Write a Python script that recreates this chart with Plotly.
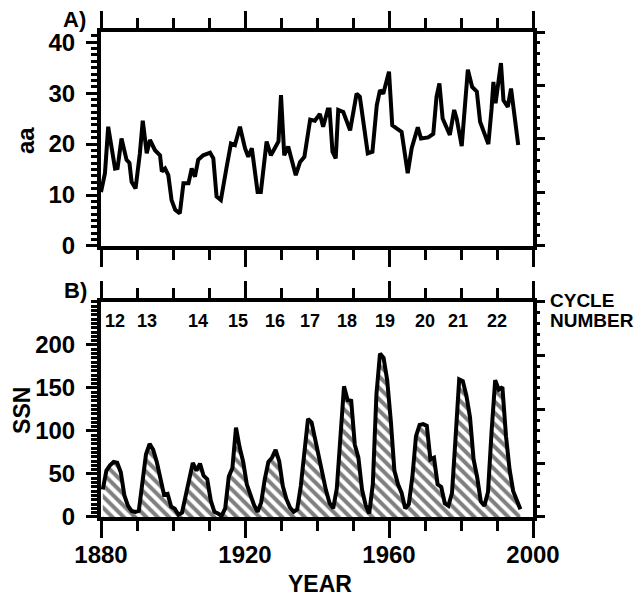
import plotly.graph_objects as go

# ---------------- data ----------------
aa_years = [1880.0, 1881.1, 1882.0, 1883.9, 1884.6, 1885.7, 1887.1, 1887.9, 1888.5, 1889.6,
            1890.8, 1891.6, 1892.7, 1893.6, 1895.0, 1896.4, 1896.9, 1897.8, 1898.7, 1899.6,
            1900.6, 1901.9, 1902.9, 1904.3, 1905.2, 1906.1, 1907.0, 1908.4, 1910.3, 1911.2,
            1912.1, 1913.3, 1914.9, 1916.1, 1917.2, 1918.6, 1920.0, 1920.9, 1921.9, 1923.5,
            1924.4, 1926.0, 1927.2, 1928.8, 1929.3, 1930.0, 1930.9, 1932.0, 1932.8, 1934.1,
            1935.3, 1936.5, 1938.1, 1939.4, 1940.8, 1941.7, 1943.0, 1943.5, 1944.3, 1945.2,
            1945.9, 1947.3, 1949.2, 1951.0, 1951.9, 1954.1, 1955.4, 1956.6, 1957.5, 1958.4,
            1960.0, 1960.9, 1962.1, 1963.5, 1965.2, 1966.3, 1968.0, 1968.9, 1970.9, 1972.3,
            1973.2, 1974.0, 1974.9, 1976.0, 1976.9, 1978.1, 1978.8, 1980.2, 1981.9, 1983.1,
            1984.4, 1985.3, 1986.5, 1987.6, 1988.5, 1989.0, 1989.6, 1991.1, 1991.8, 1993.0,
            1993.9, 1995.9]
aa_values = [10.6, 14.3, 23.4, 15.2, 15.3, 21.1, 16.9, 16.3, 12.6, 11.3,
             18.2, 24.6, 18.2, 20.8, 18.8, 17.8, 14.6, 15.2, 13.9, 9.0,
             7.1, 6.4, 12.3, 12.3, 15.2, 13.6, 16.9, 17.8, 18.3, 17.2,
             9.7, 9.0, 15.5, 20.1, 19.8, 23.4, 19.2, 17.5, 19.2, 10.6,
             10.6, 20.5, 17.8, 20.1, 20.5, 29.6, 17.8, 19.5, 17.5, 13.9,
             16.5, 17.5, 24.8, 24.6, 25.9, 23.4, 26.8, 26.8, 18.5, 17.2,
             26.7, 26.3, 22.7, 29.9, 29.3, 18.2, 18.5, 27.6, 30.6, 29.9,
             34.2, 23.7, 23.1, 22.4, 14.3, 19.2, 23.3, 21.1, 21.3, 22.0,
             29.3, 31.9, 25.0, 23.4, 21.8, 26.7, 25.0, 19.6, 34.6, 31.2,
             30.3, 24.4, 22.1, 20.0, 27.0, 32.2, 28.0, 35.9, 28.6, 27.3,
             30.9, 19.8]

ssn_years = list(range(1880, 1997))
ssn_values = [32, 54, 60, 64, 63, 52, 25, 13, 7, 6,
              7, 36, 73, 85, 78, 64, 42, 26, 27, 12,
              9.5, 2.7, 5, 24, 42, 63, 54, 62, 48, 44,
              19, 6, 4, 1.4, 10, 47, 57, 104, 81, 64,
              38, 26, 14, 6, 17, 44, 64, 69, 78, 65,
              36, 21, 11, 6, 9, 36, 80, 114, 110, 89,
              68, 48, 31, 16, 10, 33, 93, 152, 136, 135,
              84, 69, 32, 14, 4, 38, 142, 190, 185, 159,
              112, 54, 38, 28, 10, 15, 47, 94, 107, 108,
              106, 67, 69, 38, 35, 16, 13, 28, 93, 160,
              158, 141, 116, 67, 46, 18, 13, 29, 100, 159,
              148, 151, 94, 55, 30, 18, 9]

cycle_numbers = ["12", "13", "14", "15", "16", "17", "18", "19", "20", "21", "22"]
cycle_years = [1883.9, 1892.8, 1906.9, 1918.0, 1928.3, 1938.0, 1948.3, 1958.9, 1970.0, 1979.2, 1990.0]
cycle_label_level = 228

year_ticks = [1880, 1920, 1960, 2000]
aa_ticks = [0, 10, 20, 30, 40]
ssn_ticks = [0, 50, 100, 150, 200]

# ---------------- figure ----------------
FONT = "Liberation Sans"
tickfont = dict(family=FONT, size=24, color="black", weight="bold")

fig = go.Figure()

fig.add_trace(go.Scatter(
    x=aa_years, y=aa_values, xaxis="x2", yaxis="y2", mode="lines",
    line=dict(color="black", width=4), showlegend=False, hoverinfo="skip"))

fig.add_trace(go.Scatter(
    x=[y + 0.5 for y in ssn_years], y=ssn_values, xaxis="x", yaxis="y", mode="lines",
    line=dict(color="black", width=4), fill="tozeroy", fillcolor="white",
    fillpattern=dict(shape="\\", fgcolor="black", bgcolor="white", size=8, solidity=0.5),
    showlegend=False, hoverinfo="skip"))

# empty traces so the right-hand tick axes are drawn
fig.add_trace(go.Scatter(x=[], y=[], xaxis="x", yaxis="y3", showlegend=False))
fig.add_trace(go.Scatter(x=[], y=[], xaxis="x2", yaxis="y4", showlegend=False))

xcommon = dict(range=[1880, 2000], showgrid=False, zeroline=False, automargin=False,
               showline=True, linecolor="black", linewidth=4, mirror="ticks",
               ticks="outside", tickvals=year_ticks, ticklen=17, tickwidth=3, tickcolor="black",
               minor=dict(dtick=10, tick0=1880, ticks="outside", ticklen=10, tickwidth=3,
                          tickcolor="black", showgrid=False),
               tickfont=tickfont)

ycommon = dict(showgrid=False, zeroline=False, showline=True, linecolor="black", linewidth=4,
               mirror=True, ticks="outside", ticklen=11, tickwidth=3, tickcolor="black",
               tickfont=tickfont, ticklabelstandoff=6, automargin=False)

dom_bottom = [0, 0.4433]
dom_top = [0.5588, 1]

fig.update_layout(
    width=634, height=591,
    margin=dict(l=93, r=109, t=24, b=82, autoexpand=False),
    paper_bgcolor="white", plot_bgcolor="white",
    xaxis=dict(**xcommon, anchor="y", domain=[0, 1], ticktext=[str(v) for v in year_ticks],
               ticklabelstandoff=-4),
    xaxis2=dict(**xcommon, anchor="y2", domain=[0, 1], showticklabels=False),
    yaxis=dict(**ycommon, domain=dom_bottom, range=[0, 250], tickvals=ssn_ticks,
               minor=dict(dtick=5, tick0=0, ticks="outside", ticklen=6, tickwidth=3,
                          tickcolor="black", showgrid=False)),
    yaxis2=dict(**ycommon, domain=dom_top, range=[0, 42], tickvals=aa_ticks,
                minor=dict(dtick=1.25, tick0=0, ticks="outside", ticklen=6, tickwidth=3,
                           tickcolor="black", showgrid=False)),
    yaxis3=dict(overlaying="y", side="right", anchor="x", range=[0, 40], showgrid=False,
                zeroline=False, showline=False, ticks="outside", dtick=10, ticklen=11,
                tickwidth=3, tickcolor="black", showticklabels=False, automargin=False,
                minor=dict(dtick=2, ticks="outside", ticklen=6, tickwidth=3,
                           tickcolor="black", showgrid=False)),
    yaxis4=dict(overlaying="y2", side="right", anchor="x2", range=[0, 40], showgrid=False,
                zeroline=False, showline=False, ticks="outside", dtick=10, ticklen=11,
                tickwidth=3, tickcolor="black", showticklabels=False, automargin=False,
                minor=dict(dtick=2, ticks="outside", ticklen=6, tickwidth=3,
                           tickcolor="black", showgrid=False)),
)

def label(text, x, y, size, angle=0, xanchor="center", xref="paper", yref="paper"):
    fig.add_annotation(text=text, x=x, y=y, xref=xref, yref=yref, showarrow=False,
                       xanchor=xanchor, yanchor="middle", textangle=angle,
                       font=dict(family=FONT, size=size, color="black", weight="bold"))

label("A)", -0.062, 1.026, 22)
label("B)", -0.058, 0.466, 22)
label("aa", -0.176, 0.777, 24, angle=-90)
label("SSN", -0.183, 0.2206, 23, angle=-90)
label("YEAR", 0.507, -0.139, 23)
label("CYCLE", 1.035, 0.447, 19, xanchor="left")
label("NUMBER", 1.035, 0.406, 19, xanchor="left")

for num, yr in zip(cycle_numbers, cycle_years):
    label(num, yr, cycle_label_level, 18, xref="x", yref="y")

fig.write_html("out.html")
